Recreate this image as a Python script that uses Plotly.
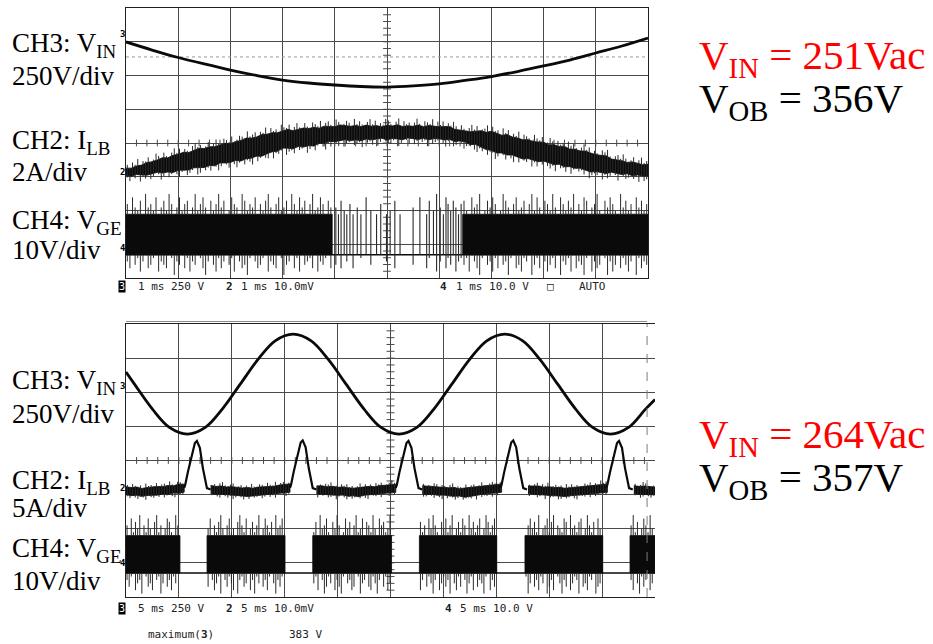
import plotly.graph_objects as go

W, H = 933, 644

# ---------------- upper capture: 1 ms/div ----------------
T_VIN_TOP = [0, 0.5, 1, 1.5, 2, 2.5, 3, 3.5, 4, 4.5, 5, 5.5, 6, 6.5, 7, 7.5, 8, 8.5, 9, 9.5, 10]
VIN_TOP = [-59, -119, -174, -222, -267, -307, -341, -363, -378, -389, -393,
           -385, -370, -344, -315, -278, -237, -193, -141, -89, -30]

# inductor current, solid core of the ripple band (A), every 0.1 ms
ILB_TOP_HI = [0.23, 0.23, 0.36, 0.41, 0.56, 0.61, 0.72, 0.85, 0.84, 0.99,
              1.05, 1.17, 1.15, 1.27, 1.41, 1.39, 1.50, 1.50, 1.60, 1.70,
              1.67, 1.81, 1.86, 2.01, 2.01, 2.07, 2.22, 2.24, 2.33, 2.33,
              2.43, 2.53, 2.45, 2.52, 2.61, 2.58, 2.65, 2.60, 2.72, 2.70,
              2.69, 2.79, 2.74, 2.71, 2.76, 2.69, 2.78, 2.72, 2.75, 2.68,
              2.77, 2.73, 2.80, 2.70, 2.74, 2.71, 2.78, 2.69, 2.76, 2.72,
              2.68, 2.70, 2.69, 2.53, 2.48, 2.46, 2.39, 2.42, 2.45, 2.35,
              2.41, 2.30, 2.18, 2.22, 2.08, 2.02, 1.91, 1.92, 1.81, 1.78,
              1.77, 1.61, 1.62, 1.52, 1.52, 1.36, 1.35, 1.25, 1.24, 1.13,
              1.03, 0.99, 0.96, 0.77, 0.72, 0.67, 0.57, 0.60, 0.52, 0.43, 0.46]
ILB_TOP_LO = [-0.21, -0.25, -0.15, -0.17, -0.19, -0.10, -0.02, -0.06, 0.00, -0.03,
              0.10, 0.10, 0.12, 0.25, 0.25, 0.27, 0.39, 0.37, 0.54, 0.54,
              0.57, 0.69, 0.65, 0.79, 0.82, 0.94, 0.94, 1.08, 1.20, 1.23,
              1.42, 1.41, 1.38, 1.51, 1.48, 1.56, 1.54, 1.71, 1.71, 1.81,
              1.80, 1.85, 1.92, 1.85, 1.91, 1.85, 1.95, 1.91, 1.95, 2.00,
              1.90, 1.99, 1.95, 1.92, 2.02, 1.96, 1.93, 2.00, 1.91, 1.98,
              1.97, 1.90, 1.94, 1.79, 1.85, 1.77, 1.63, 1.63, 1.46, 1.33,
              1.29, 1.13, 1.13, 1.01, 1.01, 0.90, 0.77, 0.80, 0.70, 0.61,
              0.65, 0.53, 0.44, 0.46, 0.31, 0.32, 0.22, 0.23, 0.13, 0.00,
              0.03, -0.03, -0.09, -0.01, -0.10, -0.15, -0.10, -0.22, -0.17, -0.24, -0.23]
# switching-ripple excursions beyond the core (A), every 0.05 ms
ILB_TOP_UP = [.2, .0, .3, .1, .4, .0, .2, .1, .3, .0, .1, .4, .2, .0, .3, .1, .0, .2, .4, .1,
              .3, .0, .2, .1, .0, .3, .4, .1, .2, .0, .1, .3, .0, .2, .4, .1, .0, .3, .2, .1,
              .4, .0, .1, .3, .2, .0, .4, .1, .2, .3, .0, .2, .1, .4, .0, .3, .1, .2, .0, .4,
              .2, .1, .3, .0, .2, .4, .1, .0, .3, .1, .0, .3, .2, .1, .4, .0, .2, .3, .1, .0,
              .4, .2, .0, .1, .3, .2, .0, .4, .1, .3, .1, .0, .2, .4, .1, .3, .0, .2, .1, .4,
              .3, .1, .0, .2, .4, .0, .3, .1, .2, .0, .2, .4, .1, .0, .3, .2, .1, .4, .0, .3,
              .1, .3, .0, .2, .1, .4, .2, .0, .3, .1, .0, .2, .4, .1, .3, .0, .1, .2, .4, .0,
              .3, .1, .2, .0, .4, .1, .3, .0, .2, .1, .4, .0, .3, .2, .1, .0, .4, .2, .1, .3,
              .0, .1, .4, .2, .0, .3, .1, .2, .0, .4, .2, .3, .1, .0, .2, .4, .1, .3, .0, .2,
              .1, .0, .3, .2, .4, .1, .0, .2, .3, .1, .4, .2, .0, .1, .3, .0, .2, .4, .1, .2]
ILB_TOP_DN = [.1, .3, .0, .2, .0, .4, .1, .2, .0, .3, .2, .0, .1, .4, .2, .0, .3, .1, .0, .2,
              .4, .1, .0, .3, .2, .1, .0, .4, .3, .0, .2, .1, .3, .0, .1, .4, .2, .0, .1, .3,
              .0, .2, .4, .1, .0, .3, .1, .2, .4, .0, .3, .1, .0, .2, .3, .0, .4, .1, .2, .1,
              .0, .4, .2, .1, .3, .0, .2, .1, .0, .4, .2, .0, .3, .1, .0, .2, .4, .1, .3, .0,
              .1, .3, .0, .4, .2, .1, .0, .3, .2, .1, .4, .0, .2, .1, .3, .0, .4, .2, .0, .1,
              .2, .3, .1, .0, .4, .2, .0, .1, .3, .0, .3, .1, .0, .2, .1, .4, .0, .3, .2, .1,
              .0, .2, .4, .1, .0, .3, .2, .0, .1, .4, .2, .1, .0, .3, .4, .1, .2, .0, .3, .1,
              .1, .4, .2, .0, .1, .3, .0, .2, .4, .0, .3, .0, .1, .2, .0, .4, .1, .3, .0, .2,
              .0, .2, .3, .1, .4, .0, .2, .1, .3, .0, .4, .1, .0, .2, .1, .3, .0, .4, .2, .1,
              .2, .0, .4, .1, .3, .2, .0, .1, .4, .0, .1, .3, .2, .0, .2, .1, .4, .0, .3, .2]

# gate drive: switching windows (ms), levels (V), ringing (V) every 0.05 ms per window
GATE_ON_TOP = [(0.0, 3.95), (6.45, 10.0)]
GATE_HI_TOP, GATE_LO_TOP = 10, -2
RING_UP_TOP = [
    [3, 0, 5, 2, 1, 4, 0, 6, 2, 3, 1, 5, 0, 2, 4, 1, 6, 3, 0, 2, 5, 1, 3, 4, 0, 2, 6, 1, 3, 5,
     2, 0, 4, 1, 3, 6, 2, 4, 0, 1, 5, 3, 2, 0, 6, 4, 1, 3, 2, 5, 0, 3, 1, 4, 6, 2, 0, 3, 5, 1,
     2, 4, 0, 6, 3, 1, 5, 2, 4, 0, 3, 6, 1, 2, 5, 3, 0, 4, 2],
    [4, 1, 0, 5, 2, 3, 6, 0, 1, 4, 2, 5, 3, 0, 1, 6, 4, 2, 0, 3, 5, 1, 2, 4, 0, 3, 6, 1, 5, 2,
     0, 4, 3, 1, 6, 2, 0, 5, 3, 1, 4, 2, 6, 0, 3, 1, 5, 4, 0, 2, 3, 6, 1, 0, 4, 2, 5, 3, 1, 0,
     6, 2, 4, 1, 3, 0, 5, 2, 4, 1, 3]]
RING_DN_TOP = [
    [2, 4, 0, 3, 1, 5, 2, 0, 4, 3, 1, 0, 5, 2, 3, 4, 0, 1, 6, 2, 3, 0, 4, 1, 5, 2, 3, 0, 1, 4,
     6, 2, 0, 3, 5, 1, 4, 2, 0, 3, 1, 5, 0, 2, 4, 3, 6, 1, 0, 2, 4, 3, 1, 0, 5, 2, 3, 4, 0, 1,
     6, 3, 2, 0, 4, 1, 5, 0, 3, 2, 1, 4, 0, 5, 2, 3, 1, 0, 4],
    [3, 1, 5, 0, 2, 4, 6, 1, 0, 3, 2, 5, 1, 4, 0, 3, 2, 6, 1, 0, 4, 3, 5, 1, 2, 0, 6, 3, 1, 4,
     0, 2, 5, 3, 1, 4, 0, 6, 2, 3, 1, 5, 0, 4, 2, 3, 6, 1, 0, 5, 2, 4, 3, 0, 1, 6, 2, 5, 3, 0,
     4, 1, 3, 5, 2, 0, 6, 1, 4, 2, 3]]
# isolated gate pulses near the line-voltage trough
PULSE_T_TOP = [4.02, 4.07, 4.12, 4.18, 4.23, 4.29, 4.35, 4.43, 4.50, 4.60, 4.69,
               4.80, 4.88, 4.99, 5.06, 5.15, 5.25, 5.50, 5.63, 5.76, 5.81, 5.89,
               5.95, 6.02, 6.08, 6.13, 6.17, 6.22, 6.27, 6.32, 6.37, 6.42]
PULSE_HI_TOP = [12, 10, 14, 11, 10, 13, 10, 12, 10, 15, 11, 10, 13, 10, 11, 14,
                10, 12, 15, 10, 14, 11, 16, 12, 10, 15, 13, 11, 14, 12, 10, 13]
PULSE_LO_TOP = [-5, -2, -6, -2, -4, -2, -6, -2, -3, -2, -5, -2, -2, -4, -2, -6,
                -2, -5, -2, -6, -3, -2, -7, -4, -2, -6, -3, -5, -2, -7, -4, -3]

# ---------------- lower capture: 5 ms/div ----------------
T_VIN_BOT = [0, 0.8, 2.5, 4.1, 5.8, 7.5, 9.1, 10.8, 12.5, 14.1, 15.8, 17.5, 19.1,
             20.8, 22.5, 24.1, 25.8, 27.5, 29.1, 30.8, 32.5, 34.1, 35.8, 37.5,
             39.1, 40.8, 42.5, 44.1, 45.8, 47.5, 49.1, 50]
VIN_BOT = [105, 17, -166, -300, -349, -300, -166, 17, 200, 334, 383, 334, 200,
           17, -166, -300, -349, -300, -166, 17, 200, 334, 383, 334,
           200, 17, -166, -300, -349, -300, -166, -95]
VIN_BOT_MAX = 383

# current band core between peaks (A), every 0.5 ms; None while the peak is drawn
ILB_BOT_HI = [0.20, 0.08, 0.15, -0.05, 0.10, 0.18, 0.25, 0.22, 0.40, 0.35, 0.60, 0.55,
              None, None, None, None, 0.38, 0.25, 0.32, 0.16,
              0.22, 0.10, 0.02, 0.10, -0.02, 0.15, 0.20, 0.32, 0.28, 0.46, 0.50, 0.62,
              None, None, None, None, 0.30, 0.35, 0.20, 0.26,
              0.12, 0.18, 0.05, 0.00, 0.08, 0.13, 0.26, 0.20, 0.38, 0.42, 0.54, 0.58,
              None, None, None, None, 0.35, 0.28, 0.22, 0.18,
              0.15, 0.06, 0.10, -0.08, 0.02, 0.10, 0.16, 0.24, 0.35, 0.40, 0.52, 0.60,
              None, None, None, None, 0.32, 0.27, 0.30, 0.14,
              0.20, 0.08, 0.12, -0.02, 0.06, 0.14, 0.20, 0.30, 0.35, 0.44, 0.56, 0.60,
              None, None, None, None, 0.36, 0.26, 0.30, 0.20, 0.16]
ILB_BOT_LO = [-0.95, -1.10, -1.05, -1.20, -1.08, -1.00, -1.02, -0.85, -0.88, -0.72, -0.75, -0.58,
              None, None, None, None, -0.80, -0.92, -0.88, -1.02,
              -0.98, -1.08, -1.15, -1.22, -1.10, -1.06, -0.95, -0.90, -0.82, -0.76, -0.68, -0.60,
              None, None, None, None, -0.85, -0.90, -0.95, -1.00,
              -1.05, -1.02, -1.18, -1.13, -1.25, -1.04, -0.98, -0.88, -0.84, -0.74, -0.70, -0.62,
              None, None, None, None, -0.82, -0.94, -0.90, -1.04,
              -1.00, -1.12, -1.20, -1.16, -1.32, -1.25, -1.10, -0.92, -0.86, -0.78, -0.66, -0.60,
              None, None, None, None, -0.84, -0.92, -0.96, -1.00,
              -1.04, -1.10, -1.16, -1.22, -1.12, -1.08, -0.96, -0.92, -0.80, -0.76, -0.68, -0.62,
              None, None, None, None, -0.82, -0.90, -0.94, -1.00, -0.98]
# ripple excursions beyond the band core (A), every 0.25 ms
ILB_BOT_UP = [.3, .0, .5, .2, .1, .4, .0, .6, .2, .3, .1, .5, .0, .3, .4, .1, .6, .2, .0, .4,
              .3, .1, .5, .0, .2, .6, .1, .3, .4, .0, .2, .5, .1, .3, .0, .4, .6, .2, .1, .3,
              .5, .0, .2, .4, .1, .3, .0, .6, .2, .1, .4, .3, .0, .5, .2, .1, .6, .0, .3, .4,
              .1, .2, .5, .0, .3, .6, .1, .4, .2, .0, .3, .5, .1, .2, .0, .4, .3, .6, .1, .2,
              .0, .4, .2, .5, .1, .3, .0, .2, .6, .1, .4, .0, .3, .1, .5, .2, .4, .0, .1, .3,
              .6, .2, .0, .4, .1, .5, .3, .0, .2, .4, .1, .6, .3, .0, .2, .1, .5, .4, .0, .3,
              .2, .0, .4, .6, .1, .3, .2, .0, .5, .1, .3, .4, .0, .2, .6, .1, .0, .3, .5, .2,
              .1, .3, .5, .0, .4, .2, .1, .6, .0, .3, .4, .1, .2, .0, .3, .5, .1, .4, .2, .6,
              .0, .2, .4, .1, .3, .0, .6, .2, .5, .1, .3, .0, .1, .4, .2, .5, .0, .3, .1, .6,
              .2, .4, .0, .3, .5, .1, .2, .0, .4, .3, .5, .1, .3, .0, .2, .6, .4, .1, .0, .2]
ILB_BOT_DN = [.2, .4, .0, .3, .5, .1, .2, .6, .0, .3, .4, .1, .3, .0, .5, .2, .1, .4, .6, .0,
              .2, .3, .1, .5, .0, .4, .2, .1, .6, .3, .0, .4, .2, .1, .3, .5, .0, .2, .4, .1,
              .6, .3, .0, .2, .5, .1, .4, .0, .3, .2, .1, .5, .3, .0, .4, .2, .6, .1, .0, .3,
              .5, .2, .1, .4, .0, .3, .2, .6, .1, .4, .0, .3, .5, .1, .2, .0, .4, .3, .1, .6,
              .2, .0, .3, .5, .1, .4, .2, .0, .3, .1, .4, .6, .0, .2, .3, .1, .5, .2, .0, .4,
              .1, .3, .2, .0, .6, .4, .1, .3, .5, .0, .2, .1, .4, .3, .0, .2, .5, .1, .3, .6,
              .0, .4, .1, .2, .5, .3, .0, .4, .2, .1, .3, .0, .6, .1, .4, .2, .3, .0, .5, .2,
              .4, .1, .0, .3, .2, .5, .1, .6, .0, .3, .2, .5, .3, .0, .1, .4, .2, .0, .6, .1,
              .3, .2, .0, .5, .4, .1, .3, .2, .0, .4, .6, .1, .2, .3, .0, .5, .1, .4, .2, .0,
              .1, .3, .5, .2, .0, .4, .3, .1, .6, .2, .0, .4, .2, .1, .5, .3, .0, .2, .4, .1]
# current peaks at the line-voltage crests
PEAK_T = [6.7, 16.7, 26.7, 36.6, 46.6]
PEAK_I = [6.9, 7.0, 6.9, 7.0, 6.9]
PEAK_DT = [-1.2, -1.1, -0.85, -0.47, -0.19, 0.0, 0.28, 0.57, 0.95, 1.3]
PEAK_SHAPE = [0.05, 0.5, 2.35, 4.8, 6.6, 6.9, 5.9, 2.9, 0.0, -0.2]

GATE_ON_BOT = [(0.0, 5.1), (7.66, 15.03), (17.65, 25.1), (27.73, 35.04),
               (37.71, 45.06), (47.64, 50.0)]
GATE_HI_BOT, GATE_LO_BOT = 8, -3
RING_UP_BOT = [
    [3, 0, 5, 1, 4, 2, 6, 0, 3, 1, 5, 2, 0, 4, 6, 1, 3, 0, 2, 5, 4, 1, 0, 6, 3],
    [2, 5, 0, 3, 1, 4, 6, 2, 0, 3, 5, 1, 2, 0, 4, 6, 3, 1, 5, 0, 2, 4, 1, 3, 6, 0, 2, 5, 3, 1,
     4, 0, 6, 2, 3, 5],
    [1, 4, 0, 6, 2, 3, 5, 1, 0, 4, 2, 6, 3, 0, 1, 5, 2, 4, 0, 3, 6, 1, 2, 5, 0, 4, 3, 1, 6, 2,
     0, 5, 3, 4, 1, 2, 6],
    [4, 1, 3, 0, 5, 2, 6, 3, 1, 0, 4, 2, 5, 1, 3, 6, 0, 2, 4, 1, 5, 3, 0, 6, 2, 4, 1, 3, 5, 0,
     2, 6, 4, 1, 3, 5],
    [0, 3, 5, 2, 4, 1, 6, 0, 2, 3, 5, 1, 4, 6, 0, 3, 2, 1, 5, 4, 0, 6, 2, 3, 1, 4, 5, 0, 2, 6,
     3, 1, 4, 0, 5, 2],
    [3, 6, 1, 4, 0, 2, 5, 3, 1, 6, 2]]
RING_DN_BOT = [
    [2, 4, 1, 0, 5, 3, 2, 6, 0, 1, 4, 3, 5, 0, 2, 1, 6, 3, 0, 4, 2, 5, 1, 3, 0],
    [4, 0, 2, 5, 3, 1, 6, 0, 2, 4, 1, 3, 5, 0, 6, 2, 1, 4, 3, 0, 5, 2, 6, 1, 3, 0, 4, 2, 5, 1,
     0, 3, 6, 2, 4, 1],
    [3, 1, 5, 0, 2, 6, 4, 1, 3, 0, 5, 2, 4, 6, 1, 0, 3, 2, 5, 4, 0, 1, 6, 3, 2, 0, 4, 5, 1, 3,
     6, 2, 0, 4, 1, 5, 3],
    [5, 2, 0, 4, 1, 3, 6, 2, 0, 5, 3, 1, 4, 2, 6, 0, 3, 5, 1, 4, 0, 2, 6, 3, 1, 5, 0, 4, 2, 3,
     6, 1, 0, 5, 2, 4],
    [1, 6, 3, 0, 4, 2, 5, 1, 3, 0, 6, 4, 2, 5, 0, 1, 3, 6, 2, 4, 0, 5, 3, 1, 2, 6, 0, 4, 3, 5,
     1, 2, 0, 6, 4, 3],
    [2, 5, 0, 3, 6, 1, 4, 2, 0, 5, 3]]

# channel ground positions (div above graticule bottom) and sensitivities
TOP_CH = {"3": (7.23, 250.0), "2": (3.14, 2.0), "4": (0.89, 10.0)}
BOT_CH = {"3": (6.17, 250.0), "2": (3.19, 5.0), "4": (1.00, 10.0)}

INK = "#0a0a0a"
HAIR = "#2a2a2a"
GRID = "#4a4a4a"


def to_div(vals, ch):
    pos, scale = ch
    return [None if v is None else pos + v / scale for v in vals]


def px(x):
    return x / W


def py(y):
    return 1 - y / H


fig = go.Figure()


def add(trace, bottom=False):
    trace.update(xaxis="x2" if bottom else "x", yaxis="y2" if bottom else "y",
                 hoverinfo="skip", showlegend=False)
    fig.add_trace(trace)


def segments(ts, lo, hi, bottom, width=1.0, color=HAIR):
    xs, ys = [], []
    for t, a, b in zip(ts, lo, hi):
        xs += [t, t, None]
        ys += [a, b, None]
    add(go.Scatter(x=xs, y=ys, mode="lines", line=dict(color=color, width=width)), bottom)


def edge_at(t, ts, vals):
    # linear position of a band edge at time t, None outside a valid run
    step = ts[1] - ts[0]
    k = int(t // step)
    if k + 1 >= len(vals) or vals[k] is None or vals[k + 1] is None:
        return None
    f = (t - ts[k]) / step
    return vals[k] + f * (vals[k + 1] - vals[k])


def band(ts, hi, lo, up, dn, ch, bottom):
    pos, scale = ch
    # one closed polygon per run of valid samples
    xs, ys = [], []
    run = []
    for t, a, b in list(zip(ts, hi, lo)) + [(None, None, None)]:
        if a is None:
            if run:
                rt = [r[0] for r in run]
                xs += rt + rt[::-1] + [None]
                ys += [pos + r[1] / scale for r in run] + \
                      [pos + r[2] / scale for r in run][::-1] + [None]
            run = []
        else:
            run.append((t, a, b))
    add(go.Scatter(x=xs, y=ys, mode="lines", fill="toself", fillcolor=INK,
                   line=dict(color=INK, width=0.8)), bottom)
    # ripple hairs on both edges
    g_step = ts[-1] / len(up)
    gt, g0, g1 = [], [], []
    for k, (u, d) in enumerate(zip(up, dn)):
        t = (k + 0.5) * g_step
        e_hi, e_lo = edge_at(t, ts, hi), edge_at(t, ts, lo)
        if e_hi is None or e_lo is None:
            continue
        gt.append(t)
        g0.append(pos + (e_lo - d) / scale)
        g1.append(pos + (e_hi + u) / scale)
    segments(gt, g0, g1, bottom, width=1.0)


def gate(windows, hi, lo, up, dn, t_step, t_end, ch, bottom):
    pos, scale = ch
    y_hi, y_lo = pos + hi / scale, pos + lo / scale
    add(go.Scatter(x=[0, t_end], y=[y_lo, y_lo], mode="lines",
                   line=dict(color=INK, width=1.5)), bottom)
    xs, ys = [], []
    for a, b in windows:
        xs += [a, b, b, a, a, None]
        ys += [y_lo, y_lo, y_hi, y_hi, y_lo, None]
    add(go.Scatter(x=xs, y=ys, mode="lines", fill="toself", fillcolor=INK,
                   line=dict(color=INK, width=0.8)), bottom)
    tu, uu, td, dd = [], [], [], []
    for (a, b), ups, dns in zip(windows, up, dn):
        for k, (u, d) in enumerate(zip(ups, dns)):
            t = a + (k + 0.5) * t_step
            if u > 0:
                tu.append(t)
                uu.append(y_hi + u / scale)
            if d > 0:
                td.append(t)
                dd.append(y_lo - d / scale)
    segments(tu, [y_hi] * len(tu), uu, bottom)
    segments(td, dd, [y_lo] * len(td), bottom)


def center_ticks(t_end, bottom):
    xs, ys = [], []
    dx = t_end / 10
    hx = 0.075 * dx
    for i in range(1, 40):
        y = i * 0.2
        xs += [dx * 5 - hx, dx * 5 + hx, None]
        ys += [y, y, None]
    for i in range(1, 50):
        x = i * 0.2 * dx
        xs += [x, x, None]
        ys += [4 - 0.1, 4 + 0.1, None]
    add(go.Scatter(x=xs, y=ys, mode="lines", line=dict(color=GRID, width=1)), bottom)


# ---- upper screen ----
center_ticks(10, False)
add(go.Scatter(x=[0, 10], y=[6.55, 6.55], mode="lines",
               line=dict(color="#9a9a9a", width=1, dash="dot")), False)
t_band = [k * 0.1 for k in range(len(ILB_TOP_HI))]
band(t_band, ILB_TOP_HI, ILB_TOP_LO, ILB_TOP_UP, ILB_TOP_DN, TOP_CH["2"], False)
gate(GATE_ON_TOP, GATE_HI_TOP, GATE_LO_TOP, RING_UP_TOP, RING_DN_TOP, 0.05, 10,
     TOP_CH["4"], False)
segments(PULSE_T_TOP, to_div(PULSE_LO_TOP, TOP_CH["4"]), to_div(PULSE_HI_TOP, TOP_CH["4"]),
         False, width=1.1)
add(go.Scatter(x=T_VIN_TOP, y=to_div(VIN_TOP, TOP_CH["3"]), mode="lines",
               line=dict(color=INK, width=2.8, shape="spline")), False)

# ---- lower screen ----
center_ticks(50, True)
t_band_b = [k * 0.5 for k in range(len(ILB_BOT_HI))]
band(t_band_b, ILB_BOT_HI, ILB_BOT_LO, ILB_BOT_UP, ILB_BOT_DN, BOT_CH["2"], True)
pk_x, pk_y = [], []
for tp, ip in zip(PEAK_T, PEAK_I):
    pk_x += [tp + d for d in PEAK_DT] + [None]
    pk_y += [s * ip / 6.9 for s in PEAK_SHAPE] + [None]
add(go.Scatter(x=pk_x, y=to_div(pk_y, BOT_CH["2"]), mode="lines",
               line=dict(color=INK, width=2.2)), True)
gate(GATE_ON_BOT, GATE_HI_BOT, GATE_LO_BOT, RING_UP_BOT, RING_DN_BOT, 0.2, 50,
     BOT_CH["4"], True)
add(go.Scatter(x=T_VIN_BOT, y=to_div(VIN_BOT, BOT_CH["3"]), mode="lines",
               line=dict(color=INK, width=2.8, shape="spline")), True)

axis = dict(showgrid=True, gridcolor=GRID, gridwidth=1, zeroline=False,
            showticklabels=False, ticks="", showline=True, linecolor="#202020",
            linewidth=1, fixedrange=True)
fig.update_layout(
    width=W, height=H, margin=dict(l=0, r=0, t=0, b=0),
    paper_bgcolor="white", plot_bgcolor="white", showlegend=False,
    xaxis=dict(axis, domain=[px(126), px(648)], range=[0, 10], dtick=1, tick0=0,
               mirror=True, anchor="y"),
    yaxis=dict(axis, domain=[py(278), py(8)], range=[0, 8], dtick=1, tick0=0,
               mirror=True, anchor="x"),
    xaxis2=dict(axis, domain=[px(126), px(655)], range=[0, 50], dtick=5, tick0=0,
                mirror=True, anchor="y2"),
    yaxis2=dict(axis, domain=[py(597), py(324)], range=[0, 8], dtick=1, tick0=0,
                mirror=False, anchor="x2"),
)

# frame details on the lower screen
fig.add_shape(type="line", xref="paper", yref="paper", x0=px(126), x1=px(647),
              y0=py(321.5), y1=py(321.5), line=dict(color="#8a8a8a", width=1))
fig.add_shape(type="line", xref="x2", yref="y2", x0=49.25, x1=49.25, y0=0, y1=8,
              line=dict(color="#7a7a7a", width=1, dash="dash"))


def text(x, y, s, size, color="black", family="Liberation Serif", xanchor="left",
         yanchor="middle", **kw):
    fig.add_annotation(x=px(x), y=py(y), xref="paper", yref="paper", text=s,
                       showarrow=False, xanchor=xanchor, yanchor=yanchor,
                       font=dict(family=family, size=size, color=color), **kw)


# channel labels
SERIF = 27
for y, s in [(45, "CH3: V<sub>IN</sub>"), (76, "250V/div"),
             (142, "CH2: I<sub>LB</sub>"), (172, "2A/div"),
             (222, "CH4: V<sub>GE</sub>"), (250, "10V/div"),
             (382, "CH3: V<sub>IN</sub>"), (414, "250V/div"),
             (482, "CH2: I<sub>LB</sub>"), (508, "5A/div"),
             (550, "CH4: V<sub>GE</sub>"), (581, "10V/div")]:
    text(10, y, s, SERIF)

# operating point
BIG = 41
text(697, 58, "V<sub>IN</sub> = 251Vac", BIG, color="#ff0000")
text(697, 101, "V<sub>OB</sub> = 356V", BIG)
text(697, 437, "V<sub>IN</sub> = 264Vac", BIG, color="#ff0000")
text(697, 480, "V<sub>OB</sub> = 357V", BIG)

# ground markers on the left edge
MONO = "DejaVu Sans Mono"
for ch, (pos, _) in TOP_CH.items():
    text(123, 278 - pos * 33.75, f"<b>{ch}</b>", 9, family=MONO, xanchor="center")
for ch, (pos, _) in BOT_CH.items():
    text(123, 597 - pos * 34.125, f"<b>{ch}</b>", 9, family=MONO, xanchor="center")

# scope status lines
STAT = 11
text(121.5, 286, "3", 10, color="white", family=MONO, xanchor="center",
     bgcolor="black", borderpad=0)
text(136, 286, "1 ms 250 V", STAT, color="#222", family=MONO)
text(229, 286, "<b>2</b>", STAT, color="#222", family=MONO, xanchor="center")
text(239, 286, "1 ms 10.0mV", STAT, color="#222", family=MONO)
text(443, 286, "<b>4</b>", STAT, color="#222", family=MONO, xanchor="center")
text(454, 286, "1 ms 10.0 V", STAT, color="#222", family=MONO)
text(550, 286, "□", STAT, color="#222", family=MONO, xanchor="center")
text(577, 286, "AUTO", STAT, color="#222", family=MONO)

text(121.5, 608, "3", 10, color="white", family=MONO, xanchor="center",
     bgcolor="black", borderpad=0)
text(136, 608, "5 ms 250 V", STAT, color="#222", family=MONO)
text(229, 608, "<b>2</b>", STAT, color="#222", family=MONO, xanchor="center")
text(239, 608, "5 ms 10.0mV", STAT, color="#222", family=MONO)
text(448, 608, "<b>4</b>", STAT, color="#222", family=MONO, xanchor="center")
text(458, 608, "5 ms 10.0 V", STAT, color="#222", family=MONO)
text(146, 634, "maximum(<b>3</b>)", STAT, color="#222", family=MONO)
text(287, 634, f"{VIN_BOT_MAX} V", STAT, color="#222", family=MONO)

fig.write_html("out.html")
